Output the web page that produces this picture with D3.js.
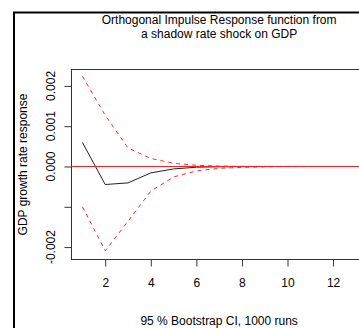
<!DOCTYPE html>
<html>
<head>
<meta charset="utf-8">
<script src="https://cdn.jsdelivr.net/npm/d3@7"></script>
<style>
  html, body { margin: 0; padding: 0; background: #fff; }
  svg { display: block; }
  text { font-family: "Liberation Sans", Arial, sans-serif; fill: #000; }
</style>
</head>
<body>
<svg id="chart" width="359" height="328"></svg>
<script>
// Impulse response horizon (periods 1..13)
const periods = [1, 2, 3, 4, 5, 6, 7, 8, 9, 10, 11, 12, 13];
// Point estimate of the orthogonal impulse response
const irf = [0.000596, -0.000447, -0.000407, -0.000159, -0.000060, -0.000018, -0.000006, -0.000002, -0.000001, 0, 0, 0, 0];
// Bootstrap confidence band
const upper = [0.00224, 0.00127, 0.00046, 0.00020, 0.000080, 0.000030, 0.000010, 0.000004, 0.000002, 0.000001, 0, 0, 0];
const lower = [-0.00100, -0.00209, -0.00136, -0.00061, -0.00026, -0.000110, -0.000045, -0.000022, -0.000009, -0.000004, -0.000001, 0, 0];
// Axis ticks
const xTicks = [2, 4, 6, 8, 10, 12];
const yTicks = [-0.002, -0.001, 0, 0.001, 0.002];
const yTickLabels = ["-0.002", "", "0.000", "0.001", "0.002"];

const svg = d3.select("#chart");

const x = d3.scaleLinear().domain([0.52, 13.48]).range([71.5, 366.8]);
const y = d3.scaleLinear().domain([-0.002308, 0.002407]).range([259.5, 69.5]);

// outer figure border (partly visible)
svg.append("path")
  .attr("d", "M14,328 V12.5 H359")
  .attr("fill", "none").attr("stroke", "#000").attr("stroke-width", 2);

// x axis
const xAxis = svg.append("g")
  .attr("transform", `translate(0,${y.range()[0]})`)
  .call(d3.axisBottom(x).tickValues(xTicks).tickFormat(d3.format("d")).tickSize(7).tickPadding(12));
xAxis.select(".domain").remove();
xAxis.selectAll("line").attr("stroke", "#333");
xAxis.selectAll("text").attr("font-size", 12).attr("font-family", "Liberation Sans, Arial, sans-serif").attr("fill", "#000");

// y axis: tick marks from the axis generator, labels drawn rotated alongside
const yAxis = svg.append("g")
  .attr("transform", `translate(${x.range()[0]},0)`)
  .call(d3.axisLeft(y).tickValues(yTicks).tickFormat("").tickSize(7));
yAxis.select(".domain").remove();
yAxis.selectAll("line").attr("stroke", "#333");
yAxis.selectAll("text").remove();

svg.append("g").selectAll("text")
  .data(yTicks.map((v, i) => ({ v, label: yTickLabels[i] })).filter(d => d.label))
  .join("text")
  .attr("transform", d => `translate(54.5,${y(d.v)}) rotate(-90)`)
  .attr("text-anchor", "middle")
  .attr("font-size", 12)
  .text(d => d.label);

// plot box
svg.append("rect")
  .attr("x", x.range()[0]).attr("y", y.range()[1])
  .attr("width", x.range()[1] - x.range()[0]).attr("height", y.range()[0] - y.range()[1])
  .attr("fill", "none").attr("stroke", "#333").attr("stroke-width", 1);

const line = d3.line().x((d, i) => x(periods[i])).y(d => y(d));

// response
svg.append("path").datum(irf)
  .attr("d", line).attr("fill", "none").attr("stroke", "#222").attr("stroke-width", 1);

// confidence bands
[upper, lower].forEach(band => {
  svg.append("path").datum(band)
    .attr("d", line).attr("fill", "none")
    .attr("stroke", "#ff2a2a").attr("stroke-width", 1).attr("stroke-dasharray", "4,4");
});

// zero line
svg.append("line")
  .attr("x1", x.range()[0]).attr("x2", x.range()[1])
  .attr("y1", y(0)).attr("y2", y(0))
  .attr("stroke", "#ff2020").attr("stroke-width", 1);

const cx = (x.range()[0] + x.range()[1]) / 2;

// title
svg.append("text").attr("x", cx).attr("y", 24).attr("text-anchor", "middle").attr("font-size", 12)
  .text("Orthogonal Impulse Response function from");
svg.append("text").attr("x", cx).attr("y", 37.5).attr("text-anchor", "middle").attr("font-size", 12)
  .text("a shadow rate shock on GDP");

// y axis title
svg.append("text")
  .attr("transform", `translate(27,${(y.range()[0] + y.range()[1]) / 2}) rotate(-90)`)
  .attr("text-anchor", "middle").attr("font-size", 12)
  .text("GDP growth rate response");

// x axis caption
svg.append("text").attr("x", cx).attr("y", 325).attr("text-anchor", "middle").attr("font-size", 12)
  .text("95 % Bootstrap CI, 1000 runs");
</script>
</body>
</html>
